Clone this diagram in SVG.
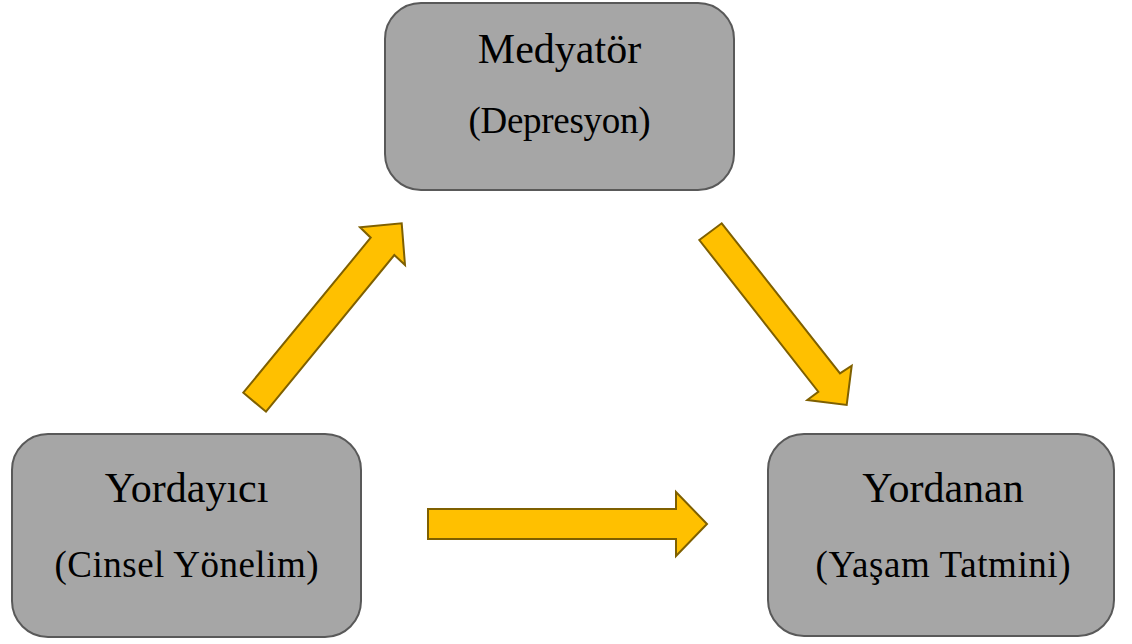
<svg xmlns="http://www.w3.org/2000/svg" width="1132" height="644" viewBox="0 0 1132 644">
<style>
.box{fill:#a6a6a6;stroke:#595959;stroke-width:2}
.t{font-family:"Liberation Serif","Times New Roman",serif;fill:#000;text-anchor:middle}
.h{font-size:42px}
.s{font-size:37px}
.arr{fill:#ffc000;stroke:#7f6000;stroke-width:2;stroke-linejoin:miter}
</style>
<rect width="1132" height="644" fill="#fff"/>
<g id="node-mediator">
<rect class="box" x="385" y="3" width="349" height="187" rx="36"/>
<text class="t h" x="559.5" y="63">Medyatör</text>
<text class="t s" x="559.5" y="133" textLength="182" lengthAdjust="spacing">(Depresyon)</text>
</g>
<g id="node-predictor">
<rect class="box" x="12" y="434" width="349" height="203" rx="36"/>
<text class="t h" x="186.5" y="502">Yordayıcı</text>
<text class="t s" x="186.5" y="577" textLength="264" lengthAdjust="spacing">(Cinsel Yönelim)</text>
</g>
<g id="node-outcome">
<rect class="box" x="768" y="434" width="346" height="202" rx="36"/>
<text class="t h" x="943" y="502">Yordanan</text>
<text class="t s" x="943" y="577" textLength="255" lengthAdjust="spacing">(Yaşam Tatmini)</text>
</g>
<g id="connectors">
<polygon class="arr" points="243.3,392.7 370.7,237.7 360,227.3 401.7,223.3 405,265 394.3,255 266,411.7"/>
<polygon class="arr" points="699.3,240 721.7,223.3 840,373.3 851.7,365.7 846.7,405 807.3,400 818.3,391.7"/>
<polygon class="arr" points="428,509 676,509 676,492 707,524 676,556 676,539 428,539"/>
</g>
</svg>
